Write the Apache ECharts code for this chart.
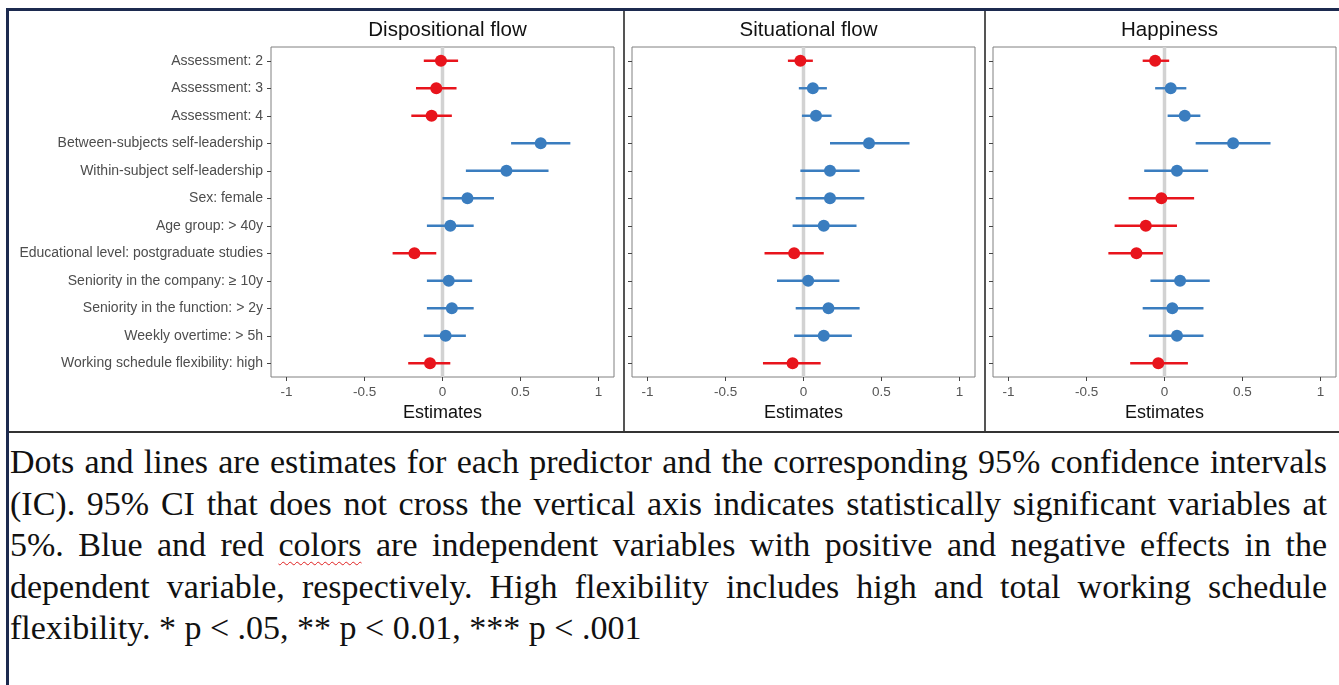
<!DOCTYPE html>
<html>
<head>
<meta charset="utf-8">
<script src="https://cdn.jsdelivr.net/npm/echarts@6/dist/echarts.min.js"></script>
<style>
    html, body { margin: 0; padding: 0; background: #fff; }
    body { width: 1339px; height: 685px; position: relative; overflow: hidden; }
    #frame {
        position: absolute; left: 6px; top: 8px; width: 1340px; height: 690px;
        border-top: 3px solid #1c2a4f; border-left: 3px solid #1c2a4f;
    }
    #chart { position: absolute; left: 0; top: 0; width: 1339px; height: 436px; }
    #rule { position: absolute; left: 9px; top: 431px; width: 1330px; height: 2px; background: #333; }
    #caption {
        position: absolute; left: 10px; top: 441px; width: 1317px;
        font-family: 'Liberation Serif', 'Times New Roman', serif;
        font-size: 34px; line-height: 41.5px; color: #111;
    }
    #caption div { text-align: justify; text-align-last: justify; white-space: nowrap; }
    #caption div.last { text-align-last: left; }
    .typo { text-decoration: underline wavy #e02020; text-decoration-thickness: 1px; text-underline-offset: 5px; }
</style>
</head>
<body>
<div id="frame"></div>
<div id="chart"></div>
<div id="rule"></div>
<div id="caption">
    <div>Dots and lines are estimates for each predictor and the corresponding 95% confidence intervals</div>
    <div>(IC). 95% CI that does not cross the vertical axis indicates statistically significant variables at</div>
    <div>5%. Blue and red <span class="typo">colors</span> are independent variables with positive and negative effects in the</div>
    <div>dependent variable, respectively. High flexibility includes high and total working schedule</div>
    <div class="last">flexibility. * p &lt; .05, ** p &lt; 0.01, *** p &lt; .001</div>
</div>
<script>
const predictors = [
    'Assessment: 2',
    'Assessment: 3',
    'Assessment: 4',
    'Between-subjects self-leadership',
    'Within-subject self-leadership',
    'Sex: female',
    'Age group: > 40y',
    'Educational level: postgraduate studies',
    'Seniority in the company: \u2265 10y',
    'Seniority in the function: > 2y',
    'Weekly overtime: > 5h',
    'Working schedule flexibility: high'
];
const panelTitles = ['Dispositional flow', 'Situational flow', 'Happiness'];
const xTicks = [-1, -0.5, 0, 0.5, 1];

// estimate, lower CI, upper CI (one value per predictor)
const dispEst = [-0.01, -0.04, -0.07, 0.63, 0.41, 0.16, 0.05, -0.18, 0.04, 0.06, 0.02, -0.08];
const dispLow = [-0.12, -0.17, -0.20, 0.44, 0.15, 0.00, -0.10, -0.32, -0.10, -0.10, -0.12, -0.22];
const dispHigh = [0.10, 0.09, 0.06, 0.82, 0.68, 0.33, 0.20, -0.04, 0.19, 0.20, 0.15, 0.05];

const sitEst = [-0.02, 0.06, 0.08, 0.42, 0.17, 0.17, 0.13, -0.06, 0.03, 0.16, 0.13, -0.07];
const sitLow = [-0.10, -0.03, -0.01, 0.17, -0.02, -0.05, -0.07, -0.25, -0.17, -0.05, -0.06, -0.26];
const sitHigh = [0.06, 0.15, 0.18, 0.68, 0.36, 0.39, 0.34, 0.13, 0.23, 0.36, 0.31, 0.11];

const hapEst = [-0.06, 0.04, 0.13, 0.44, 0.08, -0.02, -0.12, -0.18, 0.10, 0.05, 0.08, -0.04];
const hapLow = [-0.14, -0.06, 0.02, 0.20, -0.13, -0.23, -0.32, -0.36, -0.09, -0.14, -0.10, -0.22];
const hapHigh = [0.03, 0.14, 0.23, 0.68, 0.28, 0.19, 0.08, -0.01, 0.29, 0.25, 0.25, 0.15];

const RED = '#e8141c';
const BLUE = '#3a7dbf';
const FONT = "'Liberation Sans', Arial, sans-serif";

const panels = [
    { est: dispEst, low: dispLow, high: dispHigh, left: 271 },
    { est: sitEst, low: sitLow, high: sitHigh, left: 632 },
    { est: hapEst, low: hapLow, high: hapHigh, left: 993 }
];
const GRID_W = 343;

function renderZero(params, api) {
    const cs = params.coordSys;
    const x = api.coord([api.value(0), 0])[0];
    return {
        type: 'line',
        shape: { x1: x, y1: cs.y, x2: x, y2: cs.y + cs.height },
        style: { stroke: '#d2d2d2', lineWidth: 3.5 }
    };
}

function renderEstimate(params, api) {
    const row = api.value(1);
    const est = api.value(0);
    const p = api.coord([est, row]);
    const a = api.coord([api.value(2), row]);
    const b = api.coord([api.value(3), row]);
    const color = est < 0 ? RED : BLUE;
    return {
        type: 'group',
        children: [
            { type: 'line', shape: { x1: a[0], y1: a[1], x2: b[0], y2: b[1] }, style: { stroke: color, lineWidth: 2.4 } },
            { type: 'circle', shape: { cx: p[0], cy: p[1], r: 6 }, style: { fill: color } }
        ]
    };
}

const grid = [], xAxis = [], yAxis = [], series = [], title = [];
panels.forEach((pn, i) => {
    grid.push({ left: pn.left, top: 47, width: GRID_W, height: 330, show: true, borderColor: '#808080', borderWidth: 1 });
    title.push({
        text: panelTitles[i], left: pn.left + GRID_W / 2, top: 15, textAlign: 'center',
        textStyle: { fontFamily: FONT, fontSize: 20.5, fontWeight: 'normal', color: '#111' }
    });
    xAxis.push({
        gridIndex: i, type: 'value', min: -1.1, max: 1.1,
        name: 'Estimates', nameLocation: 'middle', nameGap: 26,
        nameTextStyle: { fontFamily: FONT, fontSize: 18, color: '#111', verticalAlign: 'top' },
        axisLine: { show: false, onZero: false },
        axisTick: { show: true, length: 4, lineStyle: { color: '#444' }, customValues: xTicks },
        axisLabel: { fontFamily: FONT, fontSize: 13.5, color: '#555', margin: 8, customValues: xTicks },
        splitLine: { show: false }
    });
    yAxis.push({
        gridIndex: i, type: 'category', data: predictors, inverse: true,
        axisLine: { show: false, onZero: false },
        axisTick: { show: true, length: 4, alignWithLabel: true, lineStyle: { color: '#444' } },
        axisLabel: { show: i === 0, fontFamily: FONT, fontSize: 14, color: '#4d4d4d', margin: 8 },
        splitLine: { show: false }
    });
    series.push({
        type: 'custom', xAxisIndex: i, yAxisIndex: i, z: 1, silent: true,
        renderItem: renderZero, data: [[0, 0]]
    });
    series.push({
        type: 'custom', xAxisIndex: i, yAxisIndex: i, z: 2,
        renderItem: renderEstimate,
        encode: { x: 0, y: 1 },
        data: pn.est.map((v, k) => [v, k, pn.low[k], pn.high[k]])
    });
});

const chart = echarts.init(document.getElementById('chart'));
chart.setOption({
    animation: false,
    backgroundColor: 'transparent',
    title, grid, xAxis, yAxis, series,
    graphic: [
        { type: 'line', shape: { x1: 624, y1: 11, x2: 624, y2: 432 }, style: { stroke: '#555', lineWidth: 2 } },
        { type: 'line', shape: { x1: 985, y1: 11, x2: 985, y2: 432 }, style: { stroke: '#555', lineWidth: 2 } }
    ]
});
</script>
</body>
</html>
